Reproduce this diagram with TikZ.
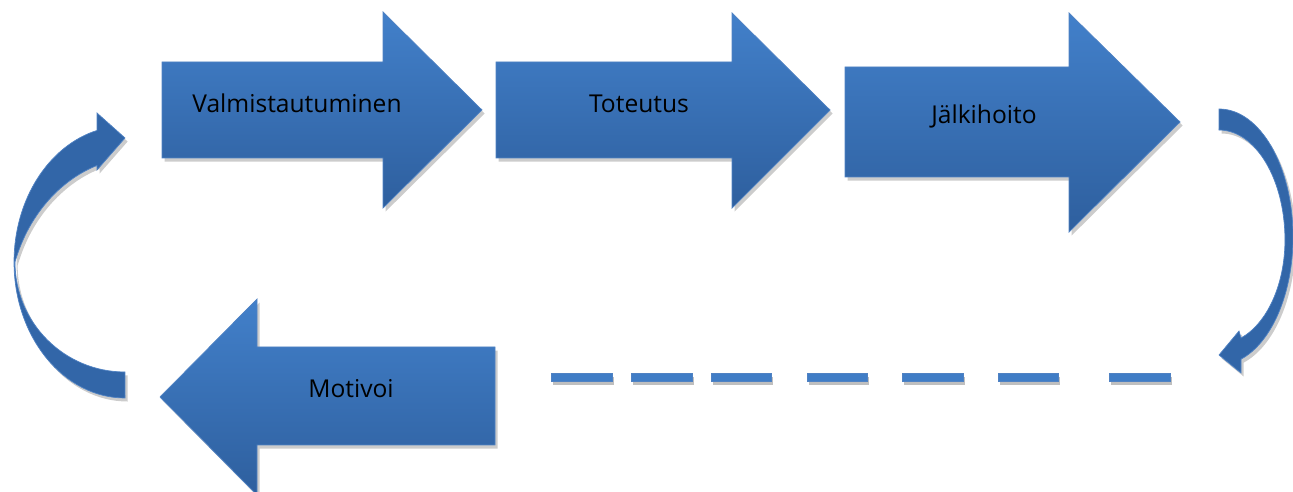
\documentclass[tikz,border=0pt]{standalone}
\usepackage{fontspec}
\setmainfont{Open Sans}
\usetikzlibrary{shadows}
\definecolor{btop}{RGB}{66,128,202}
\definecolor{bbot}{RGB}{46,95,158}
\definecolor{bline}{RGB}{80,130,195}
\definecolor{cfill}{RGB}{50,102,168}
\tikzset{
  blk/.style={top color=btop, bottom color=bbot, draw=bline, line width=0.4pt,
    drop shadow={shadow xshift=1.5pt, shadow yshift=-2pt, opacity=0.2, fill=black}},
  crv/.style={fill=cfill, draw=bline, line width=0.4pt,
    drop shadow={shadow xshift=1.5pt, shadow yshift=-2pt, opacity=0.2, fill=black}},
  dsh/.style={fill=btop!90!bbot, draw=bline, line width=0.3pt,
    drop shadow={shadow xshift=1pt, shadow yshift=-2pt, opacity=0.25, fill=black}},
  lbl/.style={anchor=base, font=\fontsize{14}{16}\selectfont, text=black, inner sep=0pt}
}
\begin{document}
\begin{tikzpicture}[x=0.02cm,y=0.02cm]
\useasboundingbox (0,0) rectangle (1293,-492);
% block arrows
\path[blk] (162,-62) -- (383,-62) -- (383,-12) -- (482,-110) -- (383,-208) -- (383,-158) -- (162,-158) -- cycle;
\path[blk] (496,-62) -- (732,-62) -- (732,-13) -- (830,-110) -- (732,-208) -- (732,-158) -- (496,-158) -- cycle;
\path[blk] (845,-67) -- (1069,-67) -- (1069,-13) -- (1180,-122) -- (1069,-232) -- (1069,-177) -- (845,-177) -- cycle;
\path[blk] (160,-397) -- (257,-299) -- (257,-347) -- (495,-347) -- (495,-445) -- (257,-445) -- (257,-495) -- cycle;
% curved arrows
\path[crv] (125,-398) arc[start angle=270, end angle=104.6, x radius=2.22cm, y radius=2.72cm]
  -- (97,-113) -- (125,-138) -- (97,-170) -- (97,-165.5)
  .. controls (65,-178) and (30,-210) .. (15,-262)
  arc[start angle=180, end angle=270, x radius=2.2cm, y radius=2.2cm] -- cycle;
\path[crv] (1219,-109) arc[start angle=90, end angle=-72.7, x radius=1.48cm, y radius=2.56cm]
  -- (1241,-373) -- (1219,-355) -- (1239,-331) -- (1241,-338)
  arc[start angle=-70.5, end angle=0, x radius=1.32cm, y radius=2.08cm]
  arc[start angle=0, end angle=90, x radius=1.32cm, y radius=2.2cm] -- cycle;
% dashes
\foreach \a/\b in {551/612,631/692,711/771,807/867,902/963,998/1058,1109/1170}
  \path[dsh] (\a,-373) rectangle (\b,-381);
% labels
\node[lbl] (t1) at (297,-113) {Valmistautuminen};
\node[lbl] (t2) at (639,-113) {Toteutus};
\node[lbl] (t3) at (984,-124) {Jälkihoito};
\node[lbl] (t4) at (351,-398) {Motivoi};
\end{tikzpicture}
\end{document}
